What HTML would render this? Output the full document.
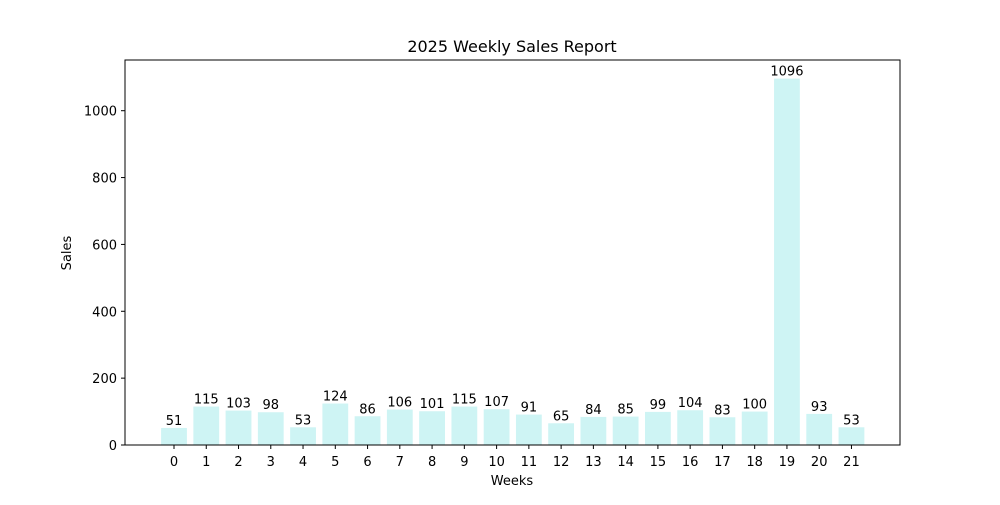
<!DOCTYPE html>
<html><head><meta charset="utf-8"><style>
body{margin:0;background:#fff;font-family:"Liberation Sans","DejaVu Sans",sans-serif}
</style></head><body>
<svg id="chart" width="1000" height="500" xmlns="http://www.w3.org/2000/svg" font-family="DejaVu Sans, Liberation Sans, sans-serif">
<text x="512" y="52" text-anchor="middle" font-size="16">2025 Weekly Sales Report</text>
<text x="512" y="485" text-anchor="middle" font-size="13">Weeks</text>
<text x="71" y="253" text-anchor="middle" font-size="13" transform="rotate(-90 71 253)">Sales</text>
<g id="bars"></g><g id="axes"></g>
<rect x="125" y="60" width="775" height="385" fill="none" stroke="#000" stroke-width="1"/>
</svg>
<script>
const categories=["0","1","2","3","4","5","6","7","8","9","10","11","12","13","14","15","16","17","18","19","20","21"];
const sales=[51,115,103,98,53,124,86,106,101,115,107,91,65,84,85,99,104,83,100,1096,93,53];
const yTicks=[0,200,400,600,800,1000];
const NS="http://www.w3.org/2000/svg";
const x=i=>174+i*32.26;
const y=v=>445-v*0.3343;
const bw=25.8;
const bars=document.getElementById('bars'),axes=document.getElementById('axes');
function mk(tag,attrs,p){const e=document.createElementNS(NS,tag);for(const k in attrs)e.setAttribute(k,attrs[k]);p.appendChild(e);return e;}
sales.forEach((v,i)=>{
 const r=mk('rect',{x:x(i)-bw/2,y:y(v),width:bw,height:445-y(v),fill:'#cef4f4'},bars);
 
 
 const t=mk('text',{x:x(i),y:y(v)-3,'text-anchor':'middle','font-size':13},bars);
 t.textContent=v;
 
 
 const tk=mk('line',{x1:x(i),x2:x(i),y1:445,y2:449,stroke:'#000'},axes);
 
 
 const tl=mk('text',{x:x(i),y:466,'text-anchor':'middle','font-size':13},axes);
 tl.textContent=categories[i];
 
 
});
yTicks.forEach(v=>{
 const tk=mk('line',{x1:121,x2:125,y1:y(v),y2:y(v),stroke:'#000'},axes);
 
 
 const tl=mk('text',{x:117,y:y(v)+5,'text-anchor':'end','font-size':13},axes);
 tl.textContent=v;
 
 
});
</script>
</body></html>
